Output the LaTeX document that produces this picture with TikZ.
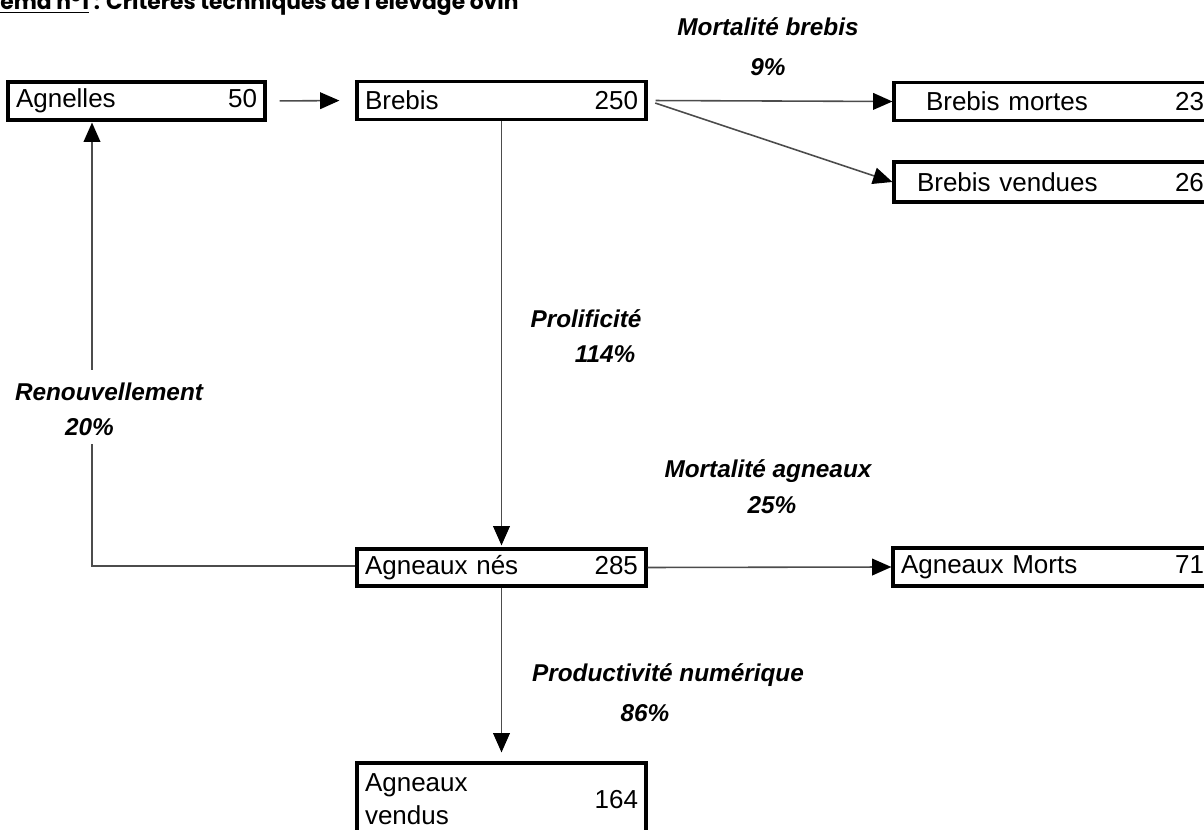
\documentclass[tikz,border=0pt]{standalone}
\usepackage{fontspec}
\setmainfont{Liberation Sans}
\newfontfamily\titlefont{Poppins}
\usetikzlibrary{arrows.meta}
\newlength\pxl
\setlength\pxl{0.02cm}
\begin{document}
\begin{tikzpicture}[x=0.02cm,y=-0.02cm,
  box/.style={draw=black, line width=1.8pt, rectangle, inner ysep=0pt, inner xsep=8*\pxl,
    minimum height=38*\pxl, align=left, font=\fontsize{14.8}{17}\selectfont},
  flow/.style={draw=black!70, line width=0.9pt,
    -{Triangle[length=11pt,width=9.5pt,color=black]}},
  lab/.style={font=\fontsize{13.85}{16}\selectfont\bfseries\itshape, inner sep=0pt}]
\useasboundingbox (0,0) rectangle (1204,830);
% title
\node[anchor=base west, inner sep=0pt, font=\titlefont\bfseries\fontsize{12.4}{14}\selectfont] (title) at (0,10)
  {\underline{ema n°1} : Critères techniques de l'élevage ovin};
% boxes
\node[box, text width=241*\pxl] (agnelles) at (136.5,101) {Agnelles\hfill 50};
\node[box, text width=273*\pxl] (brebis) at (501.5,100.5) {Brebis\hfill 250};
\node[box, text width=302*\pxl] (bmortes) at (1053,101.5) {\hspace*{24\pxl}Brebis mortes\hfill 23};
\node[box, text width=302*\pxl, minimum height=40*\pxl] (bvendues) at (1053,182) {\hspace*{15\pxl}Brebis vendues\hfill 26};
\node[box, text width=273*\pxl, minimum height=37*\pxl] (anes) at (501.5,567.5) {Agneaux nés\hfill 285};
\node[box, text width=303*\pxl] (amorts) at (1052.5,567) {Agneaux Morts\hfill 71};
\node[box, text width=273*\pxl, minimum height=78*\pxl] (avendus) at (501.5,802)
  {\begin{tabular}{@{}l@{}}Agneaux\\[2pt]vendus\end{tabular}\hfill 164};
% connectors
\draw[flow, shorten <=13*\pxl, shorten >=16*\pxl] (agnelles.east) -- (brebis.west);
\draw[flow, shorten <=8*\pxl] (brebis.east) -- (bmortes.west);
\draw[flow, shorten <=8*\pxl] (brebis.east) -- (bvendues.west);
\draw[flow, shorten >=2*\pxl] (brebis.south) -- (anes.north);
\draw[flow, shorten >=9*\pxl] (anes.south) -- (avendus.north);
\draw[flow] (anes.east) -- (amorts.west);
\draw[flow, shorten >=1*\pxl] ([yshift=1.5*\pxl]anes.west) -| ([xshift=-44.5*\pxl]agnelles.south);
% labels
\node[lab, fill=white, minimum height=44*\pxl] (lrenouv) at (109,392) {Renouvellement};
\node[lab, fill=white, minimum height=34*\pxl] (lrenouvp) at (89.5,427) {20\%};
\node[lab] (lmb) at (768,27) {Mortalité brebis};
\node[lab] (lmbp) at (768,67) {9\%};
\node[lab] (lprol) at (586,319) {Prolificité};
\node[lab] (lprolp) at (605,354) {114\%};
\node[lab] (lma) at (768,471) {Mortalité agneaux};
\node[lab] (lmap) at (772,505) {25\%};
\node[lab] (lprod) at (668,675) {Productivité numérique};
\node[lab] (lprodp) at (645,713) {86\%};
\end{tikzpicture}
\end{document}
